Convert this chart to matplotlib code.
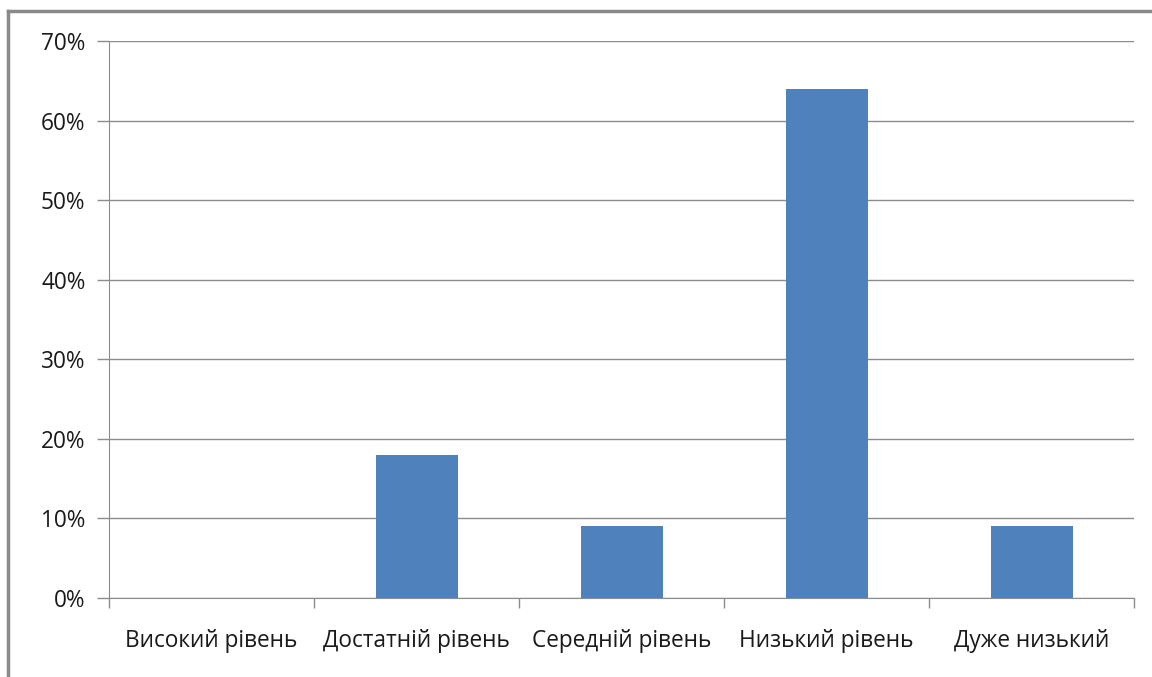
import matplotlib
matplotlib.use("Agg")
import matplotlib.pyplot as plt
from matplotlib.ticker import FixedLocator, PercentFormatter
from matplotlib.lines import Line2D

categories = ["Високий рівень", "Достатній рівень", "Середній рівень", "Низький рівень", "Дуже низький"]
values = [0, 18, 9, 64, 9]
y_ticks = [0, 10, 20, 30, 40, 50, 60, 70]

plt.rcParams['font.family'] = ['Open Sans', 'DejaVu Sans']

fig = plt.figure(figsize=(11.52, 6.77), dpi=100)
ax = fig.add_axes([109/1152, 1-598/677, (1134-109)/1152, (598-41)/677])

grey = "#8c8c8c"
x = list(range(len(categories)))
ax.bar(x, values, width=0.4, color="#4F81BD", zorder=3)
ax.set_xlim(-0.5, len(categories) - 0.5)
ax.set_ylim(0, 70)
ax.set_yticks(y_ticks)
ax.yaxis.set_major_formatter(PercentFormatter(decimals=0))
ax.grid(axis='y', color=grey, linewidth=1.0, zorder=0)

ax.set_xticks(x)
ax.set_xticklabels(categories)
ax.xaxis.set_minor_locator(FixedLocator([i - 0.5 for i in range(len(categories) + 1)]))
ax.tick_params(axis='x', which='major', length=0, pad=22, labelsize=16.3)
ax.tick_params(axis='x', which='minor', length=7, color=grey, width=1)
ax.tick_params(axis='y', length=9, color=grey, width=1, labelsize=16.3, pad=8)
for lab in ax.get_xticklabels() + ax.get_yticklabels():
    lab.set_color("#1a1a1a")

for s in ['top', 'right']:
    ax.spines[s].set_visible(False)
ax.spines['left'].set_color(grey)
ax.spines['bottom'].set_color(grey)

# outer chart frame (left and top edges)
fig.add_artist(Line2D([8/1152, 8/1152], [0, 1-11/677], color="#8a8a8a", linewidth=2.5, transform=fig.transFigure))
fig.add_artist(Line2D([8/1152, 1], [1-11/677, 1-11/677], color="#8a8a8a", linewidth=2.5, transform=fig.transFigure))

fig.savefig("out.png", dpi=100)
